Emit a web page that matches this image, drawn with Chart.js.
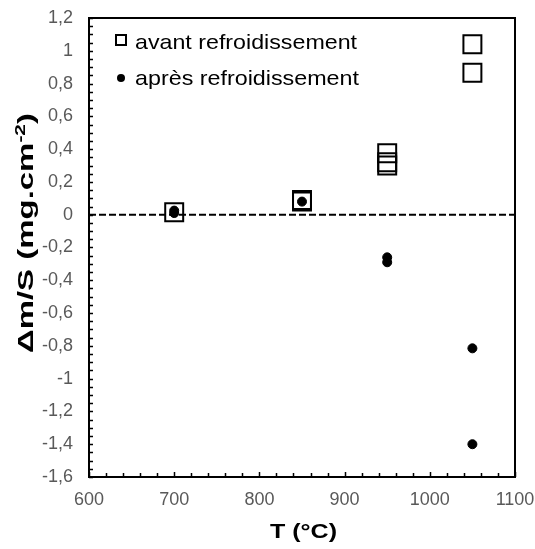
<!DOCTYPE html>
<html>
<head>
<meta charset="utf-8">
<script src="https://cdn.jsdelivr.net/npm/chart.js@4.4.1/dist/chart.umd.min.js"></script>
<style>
  html, body { margin: 0; padding: 0; background: #fff; }
  #wrap { width: 535px; height: 549px; position: relative; }
</style>
</head>
<body>
<div id="wrap"><canvas id="chart"></canvas></div>
<script>
// valeurs
var avantT = [700, 850, 850, 950, 950, 950, 1050, 1050];
var avantDm = [0.015, 0.08, 0.09, 0.375, 0.32, 0.30, 1.04, 0.866];
var apresT = [700, 700, 850, 950, 950, 1050, 1050];
var apresDm = [0.025, 0.01, 0.08, -0.26, -0.29, -0.815, -1.40];
var zeroT = [600, 1100];
var zeroDm = [0, 0];

var xTitle = 'T (°C)';
var yTitle = 'Δm/S (mg.cm';
var yTitleSup = '-2';
var legendLabels = ['avant refroidissement', 'après refroidissement'];

var FONT = '"Liberation Sans", Arial, sans-serif';

function pts(xs, ys) {
    return xs.map(function (x, i) { return { x: x, y: ys[i] }; });
}

// texte étiré à une largeur donnée (x = début)
function stretchText(ctx, txt, x, y, width) {
    var w = ctx.measureText(txt).width;
    ctx.save();
    ctx.translate(x, y);
    ctx.scale(width / w, 1);
    ctx.textAlign = 'left';
    ctx.fillText(txt, 0, 0);
    ctx.restore();
}

// cadre, graduations intérieures, titres et légende
var decor = {
    id: 'decor',
    afterDatasetsDraw: function (chart) {
        var ctx = chart.ctx;
        var a = chart.chartArea;
        var xs = chart.scales.x, ys = chart.scales.y;
        ctx.save();
        ctx.strokeStyle = '#000';
        ctx.lineWidth = 1.5;
        ctx.beginPath();
        for (var v = 600; v <= 1100; v += 20) {
            var px = Math.round(xs.getPixelForValue(v)) + 0.5;
            var len = (v % 100 === 0) ? 5 : 4;
            ctx.moveTo(px, a.bottom);
            ctx.lineTo(px, a.bottom - len);
        }
        for (var k = -32; k <= 24; k++) {
            var py = Math.round(ys.getPixelForValue(k * 0.05)) + 0.5;
            ctx.moveTo(a.left, py);
            ctx.lineTo(a.left + 4, py);
        }
        ctx.stroke();

        ctx.lineWidth = 2;
        ctx.strokeRect(a.left, a.top, a.right - a.left, a.bottom - a.top);

        // titres des axes
        ctx.fillStyle = '#000';
        ctx.textBaseline = 'alphabetic';
        ctx.font = 'bold 21px ' + FONT;
        stretchText(ctx, xTitle, 270, 538, 67);

        ctx.save();
        ctx.translate(33, 353);
        ctx.rotate(-Math.PI / 2);
        var total = 240;
        ctx.font = 'bold 22px ' + FONT;
        var w1 = ctx.measureText(yTitle).width;
        var w3 = ctx.measureText(')').width;
        ctx.font = 'bold 14px ' + FONT;
        var w2 = ctx.measureText(yTitleSup).width;
        var f = total / (w1 + w2 + w3);
        ctx.scale(f, 1);
        ctx.textAlign = 'left';
        ctx.font = 'bold 22px ' + FONT;
        ctx.fillText(yTitle, 0, 0);
        ctx.fillText(')', w1 + w2, 0);
        ctx.font = 'bold 14px ' + FONT;
        ctx.fillText(yTitleSup, w1, -8);
        ctx.restore();

        // légende
        ctx.lineWidth = 2;
        ctx.strokeRect(116, 35, 10, 10);
        ctx.beginPath();
        ctx.arc(121, 78, 4, 0, Math.PI * 2);
        ctx.fill();
        ctx.font = '21px ' + FONT;
        stretchText(ctx, legendLabels[0], 135, 49, 222);
        stretchText(ctx, legendLabels[1], 135, 85, 224);
        ctx.restore();
    }
};

new Chart(document.getElementById('chart'), {
    type: 'scatter',
    data: {
        datasets: [
            {
                label: 'zero',
                type: 'line',
                data: pts(zeroT, zeroDm),
                borderColor: '#000',
                borderWidth: 2,
                borderDash: [7, 3],
                pointRadius: 0,
                fill: false
            },
            {
                label: legendLabels[0],
                data: pts(avantT, avantDm),
                pointStyle: 'rect',
                pointRadius: 12.7,
                backgroundColor: 'rgba(0,0,0,0)',
                borderColor: '#000',
                borderWidth: 2
            },
            {
                label: legendLabels[1],
                data: pts(apresT, apresDm),
                pointStyle: 'circle',
                pointRadius: 4.5,
                backgroundColor: '#000',
                borderColor: '#000',
                borderWidth: 1
            }
        ]
    },
    options: {
        responsive: true,
        maintainAspectRatio: false,
        animation: false,
        layout: { padding: { top: 18, right: 20, left: 0, bottom: 0 } },
        plugins: {
            legend: { display: false },
            tooltip: { enabled: false }
        },
        scales: {
            x: {
                type: 'linear',
                min: 600,
                max: 1100,
                afterFit: function (s) {
                    s.height = 72;
                    s.paddingLeft = 0;
                    s.paddingRight = 0;
                },
                grid: { display: false, drawTicks: false },
                border: { display: false },
                ticks: {
                    stepSize: 100,
                    padding: 12,
                    color: '#595959',
                    font: { family: FONT, size: 18 },
                    callback: function (v) { return String(v); }
                }
            },
            y: {
                type: 'linear',
                min: -1.6,
                max: 1.2,
                afterFit: function (s) {
                    s.width = 89;
                    s.paddingTop = 0;
                    s.paddingBottom = 0;
                },
                grid: { display: false, drawTicks: false },
                border: { display: false },
                ticks: {
                    stepSize: 0.2,
                    padding: 16,
                    color: '#595959',
                    font: { family: FONT, size: 18 },
                    callback: function (v) {
                        return String(Math.round(v * 10) / 10).replace('.', ',');
                    }
                }
            }
        }
    },
    plugins: [decor]
});
</script>
</body>
</html>
